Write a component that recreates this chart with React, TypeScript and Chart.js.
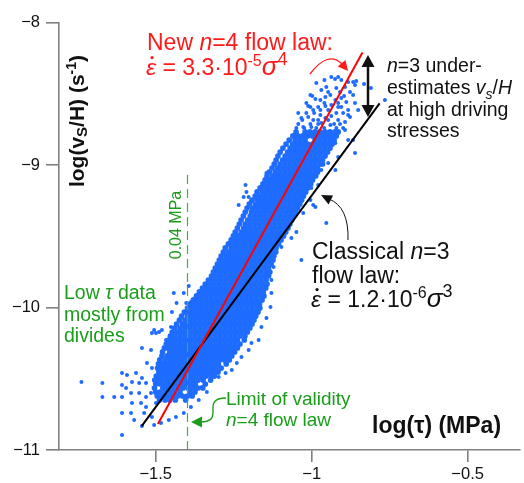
import React, { useEffect, useRef } from "react";
import { Chart, registerables } from "chart.js";
Chart.register(...registerables);

// ---------- data ----------
const X_TICKS = [-1.5, -1, -0.5];
const Y_TICKS = [-11, -10, -9, -8];

// dense core of the cloud: one row of log(tau) values per log(vs/H) level
const CORE_Y = [
  -10.649, -10.621, -10.593, -10.565, -10.537, -10.509, -10.481, -10.453, -10.425, -10.396,
  -10.368, -10.340, -10.312, -10.284, -10.256, -10.228, -10.200, -10.172, -10.144, -10.116,
  -10.088, -10.060, -10.032, -10.004, -9.975, -9.947, -9.919, -9.891, -9.863, -9.835,
  -9.807, -9.779, -9.751, -9.723, -9.695, -9.667, -9.639, -9.611, -9.582, -9.554,
  -9.526, -9.498, -9.470, -9.442, -9.414, -9.386, -9.358, -9.330, -9.302, -9.274,
  -9.246, -9.218, -9.189, -9.161, -9.133, -9.105, -9.077, -9.049, -9.021, -8.993,
  -8.965, -8.937, -8.909, -8.881, -8.853, -8.825, -8.796, -8.768,
];
const CORE_X = [
  "-1.488 -1.470 -1.455 -1.437 -1.404",
  "-1.495 -1.478 -1.463 -1.446 -1.430 -1.414 -1.398 -1.383",
  "-1.500 -1.486 -1.470 -1.454 -1.438 -1.422 -1.390 -1.374",
  "-1.504 -1.477 -1.461 -1.445 -1.429 -1.413 -1.397 -1.381 -1.365 -1.349",
  "-1.500 -1.485 -1.469 -1.453 -1.437 -1.421 -1.405 -1.389 -1.373 -1.341",
  "-1.503 -1.491 -1.476 -1.460 -1.444 -1.428 -1.412 -1.396 -1.380 -1.364 -1.348 -1.324",
  "-1.498 -1.483 -1.467 -1.451 -1.435 -1.419 -1.403 -1.387 -1.371 -1.355 -1.339 -1.323 -1.312",
  "-1.490 -1.475 -1.459 -1.443 -1.427 -1.411 -1.395 -1.379 -1.363 -1.347 -1.331 -1.315 -1.300",
  "-1.494 -1.482 -1.466 -1.450 -1.434 -1.418 -1.402 -1.386 -1.370 -1.354 -1.338 -1.322 -1.306 -1.290",
  "-1.491 -1.475 -1.459 -1.443 -1.427 -1.411 -1.395 -1.379 -1.363 -1.347 -1.331 -1.315 -1.299 -1.274",
  "-1.487 -1.470 -1.455 -1.439 -1.423 -1.407 -1.391 -1.375 -1.359 -1.343 -1.327 -1.311 -1.295 -1.279 -1.264",
  "-1.480 -1.463 -1.447 -1.431 -1.415 -1.399 -1.383 -1.367 -1.351 -1.335 -1.319 -1.303 -1.287 -1.271 -1.256",
  "-1.478 -1.455 -1.439 -1.423 -1.407 -1.391 -1.375 -1.359 -1.343 -1.327 -1.311 -1.295 -1.279 -1.263 -1.247",
  "-1.472 -1.462 -1.446 -1.430 -1.414 -1.398 -1.382 -1.366 -1.350 -1.334 -1.318 -1.302 -1.286 -1.270 -1.254 -1.238",
  "-1.466 -1.454 -1.438 -1.422 -1.406 -1.390 -1.374 -1.358 -1.342 -1.326 -1.310 -1.294 -1.278 -1.262 -1.246 -1.230",
  "-1.459 -1.446 -1.430 -1.414 -1.398 -1.382 -1.366 -1.350 -1.334 -1.318 -1.302 -1.286 -1.270 -1.254 -1.238 -1.216",
  "-1.453 -1.438 -1.422 -1.406 -1.390 -1.374 -1.358 -1.342 -1.326 -1.310 -1.294 -1.278 -1.262 -1.246 -1.230 -1.214",
  "-1.447 -1.430 -1.414 -1.398 -1.382 -1.366 -1.350 -1.334 -1.318 -1.302 -1.286 -1.270 -1.254 -1.238 -1.222 -1.206",
  "-1.440 -1.422 -1.406 -1.390 -1.374 -1.358 -1.342 -1.326 -1.310 -1.294 -1.278 -1.262 -1.246 -1.230 -1.214 -1.198",
  "-1.433 -1.414 -1.398 -1.382 -1.366 -1.350 -1.334 -1.318 -1.302 -1.286 -1.270 -1.254 -1.238 -1.222 -1.206 -1.191",
  "-1.424 -1.406 -1.390 -1.374 -1.358 -1.342 -1.326 -1.310 -1.294 -1.278 -1.262 -1.246 -1.230 -1.214 -1.198 -1.185",
  "-1.417 -1.398 -1.382 -1.366 -1.350 -1.334 -1.318 -1.302 -1.286 -1.270 -1.254 -1.238 -1.222 -1.206 -1.190 -1.179",
  "-1.408 -1.391 -1.375 -1.359 -1.343 -1.327 -1.311 -1.295 -1.279 -1.263 -1.247 -1.231 -1.215 -1.199 -1.183 -1.172",
  "-1.398 -1.383 -1.367 -1.351 -1.335 -1.319 -1.303 -1.287 -1.271 -1.255 -1.239 -1.223 -1.207 -1.191 -1.175 -1.166",
  "-1.389 -1.375 -1.359 -1.343 -1.327 -1.311 -1.295 -1.279 -1.263 -1.247 -1.231 -1.215 -1.199 -1.183 -1.167",
  "-1.379 -1.367 -1.351 -1.335 -1.319 -1.303 -1.287 -1.271 -1.255 -1.239 -1.223 -1.207 -1.191 -1.175 -1.159",
  "-1.369 -1.355 -1.339 -1.323 -1.307 -1.291 -1.275 -1.259 -1.243 -1.227 -1.211 -1.195 -1.179 -1.163 -1.153",
  "-1.360 -1.347 -1.331 -1.315 -1.299 -1.283 -1.267 -1.251 -1.235 -1.219 -1.203 -1.187 -1.171 -1.155",
  "-1.350 -1.338 -1.322 -1.306 -1.290 -1.274 -1.258 -1.242 -1.226 -1.210 -1.194 -1.178 -1.162 -1.147",
  "-1.341 -1.330 -1.314 -1.298 -1.282 -1.266 -1.250 -1.234 -1.218 -1.202 -1.186 -1.170 -1.154 -1.143",
  "-1.331 -1.322 -1.306 -1.290 -1.274 -1.258 -1.242 -1.226 -1.210 -1.194 -1.178 -1.162 -1.146",
  "-1.321 -1.314 -1.298 -1.282 -1.266 -1.250 -1.234 -1.218 -1.202 -1.186 -1.170 -1.154 -1.138",
  "-1.315 -1.302 -1.290 -1.274 -1.258 -1.242 -1.226 -1.210 -1.194 -1.178 -1.162 -1.146 -1.134",
  "-1.309 -1.294 -1.282 -1.266 -1.250 -1.234 -1.218 -1.202 -1.186 -1.170 -1.154 -1.138",
  "-1.302 -1.290 -1.274 -1.258 -1.242 -1.226 -1.210 -1.194 -1.178 -1.162 -1.146 -1.130",
  "-1.296 -1.282 -1.266 -1.250 -1.234 -1.218 -1.202 -1.186 -1.170 -1.154 -1.138 -1.124",
  "-1.290 -1.274 -1.258 -1.242 -1.226 -1.210 -1.194 -1.178 -1.162 -1.146 -1.130 -1.121",
  "-1.283 -1.266 -1.250 -1.234 -1.218 -1.202 -1.186 -1.170 -1.154 -1.138 -1.122 -1.115",
  "-1.277 -1.258 -1.242 -1.226 -1.210 -1.194 -1.178 -1.162 -1.146 -1.130 -1.114",
  "-1.267 -1.250 -1.234 -1.218 -1.202 -1.186 -1.170 -1.154 -1.138 -1.122 -1.106",
  "-1.258 -1.242 -1.226 -1.210 -1.194 -1.178 -1.162 -1.146 -1.130 -1.114 -1.098",
  "-1.251 -1.234 -1.218 -1.202 -1.186 -1.170 -1.154 -1.138 -1.122 -1.106 -1.090",
  "-1.245 -1.226 -1.210 -1.194 -1.178 -1.162 -1.146 -1.130 -1.114 -1.098 -1.083",
  "-1.238 -1.218 -1.202 -1.186 -1.170 -1.154 -1.138 -1.122 -1.106 -1.090 -1.076",
  "-1.232 -1.213 -1.197 -1.181 -1.165 -1.149 -1.133 -1.117 -1.101 -1.085 -1.070",
  "-1.226 -1.205 -1.189 -1.173 -1.157 -1.141 -1.125 -1.109 -1.093 -1.077 -1.064",
  "-1.219 -1.197 -1.181 -1.165 -1.149 -1.133 -1.117 -1.101 -1.085 -1.069 -1.057",
  "-1.213 -1.193 -1.177 -1.161 -1.145 -1.129 -1.113 -1.097 -1.081 -1.065 -1.051",
  "-1.207 -1.189 -1.173 -1.157 -1.141 -1.125 -1.109 -1.093 -1.077 -1.061 -1.045",
  "-1.200 -1.181 -1.165 -1.149 -1.133 -1.117 -1.101 -1.085 -1.069 -1.053 -1.038",
  "-1.191 -1.173 -1.157 -1.141 -1.125 -1.109 -1.093 -1.077 -1.061 -1.045 -1.032",
  "-1.181 -1.165 -1.149 -1.133 -1.117 -1.101 -1.085 -1.069 -1.053 -1.037 -1.026",
  "-1.175 -1.157 -1.141 -1.125 -1.109 -1.093 -1.077 -1.061 -1.045 -1.029 -1.019",
  "-1.165 -1.149 -1.133 -1.117 -1.101 -1.085 -1.069 -1.053 -1.037 -1.021 -1.013",
  "-1.156 -1.141 -1.125 -1.109 -1.093 -1.077 -1.061 -1.045 -1.029 -1.013 -1.003",
  "-1.149 -1.133 -1.117 -1.101 -1.085 -1.069 -1.053 -1.037 -1.021 -1.005 -0.997",
  "-1.143 -1.125 -1.109 -1.093 -1.077 -1.061 -1.045 -1.029 -1.013 -0.997 -0.987",
  "-1.136 -1.117 -1.101 -1.085 -1.069 -1.053 -1.037 -1.021 -1.005 -0.989 -0.981",
  "-1.127 -1.109 -1.093 -1.077 -1.061 -1.045 -1.029 -1.013 -0.997 -0.981",
  "-1.120 -1.101 -1.085 -1.069 -1.053 -1.037 -1.021 -1.005 -0.989 -0.973 -0.965",
  "-1.114 -1.093 -1.077 -1.061 -1.045 -1.029 -1.013 -0.997 -0.981 -0.965",
  "-1.108 -1.085 -1.069 -1.053 -1.037 -1.021 -1.005 -0.989 -0.973 -0.957",
  "-1.101 -1.077 -1.061 -1.045 -1.029 -1.013 -0.997 -0.981 -0.965 -0.949",
  "-1.092 -1.069 -1.053 -1.037 -1.021 -1.005 -0.989 -0.973 -0.957 -0.941",
  "-1.082 -1.061 -1.045 -1.029 -1.013 -0.997 -0.981 -0.965 -0.949 -0.934",
  "-1.072 -1.053 -1.037 -1.021 -0.989 -0.973 -0.957 -0.941 -0.928",
  "-1.060 -1.045 -1.029 -1.013 -0.997 -0.981 -0.965 -0.949 -0.933 -0.921",
  "-1.050 -1.021 -1.005 -0.989 -0.973 -0.957 -0.941 -0.925 -0.915",
];

// scattered points outside the core
const SCATTER_TAU = [
  -0.985, -0.937, -0.925, -0.915, -0.905, -0.883, -0.857, -0.861, -0.921, -0.969,
  -0.988, -0.972, -0.956, -0.940, -0.924, -0.905, -0.889, -0.867, -0.861, -0.883,
  -0.905, -0.937, -0.956, -0.979, -1.011, -1.033, -1.011, -0.995, -0.972, -0.956,
  -0.937, -0.915, -0.893, -0.877, -0.969, -0.940, -1.001, -1.027, -0.765, -0.832,
  -0.810, -0.867, -0.861, -0.867, -1.004, -1.004, -0.972,
  -1.049, -1.024, -0.985, -0.960, -0.921, -0.899, -1.043, -1.004, -0.979, -0.928,
  -0.909, -1.030, -0.979, -0.947, -1.043, -1.017, -0.992, -0.921, -0.899, -0.995,
  -0.947, -0.851, -1.017, -0.959, -0.915, -0.998, -0.896, -0.947, -0.909, -0.877,
  -0.953, -0.893, -0.959,
  -0.915, -0.883, -0.893, -0.883, -0.924, -0.915, -0.947, -0.969, -0.924, -0.988,
  -0.953, -0.995, -1.033, -1.097, -1.065, -1.084, -1.049, -1.027, -1.004, -1.001,
  -0.979, -0.985,
  -1.212, -1.209, -1.202, -1.218, -1.196, -1.234, -1.145, -1.148, -1.256, -1.266,
  -1.394, -1.442, -1.410, -1.352, -1.387, -1.448, -1.419, -1.384, -1.410, -1.451,
  -1.480, -1.505, -1.499, -1.544, -1.515, -1.528, -1.512, -1.608, -1.592, -1.563,
  -1.544, -1.576, -1.553, -1.531, -1.671, -1.738, -1.608, -1.595, -1.633, -1.671,
  -1.608, -1.579, -1.553, -1.531, -1.515, -1.576, -1.547, -1.531, -1.608, -1.579,
  -1.537, -1.512, -1.569, -1.608, -1.505, -1.483, -1.544, -1.499, -1.433, -1.402,
  -1.394, -1.372, -1.489, -1.512, -1.467,
  -1.387, -1.362, -1.352, -1.336, -1.387, -1.410, -1.435, -1.458, -1.314, -1.298,
  -1.276, -1.256, -1.240, -1.225, -1.202, -1.193, -1.170, -1.161, -1.145, -1.132,
  -1.129, -1.129, -1.122,
];
const SCATTER_VEL = [
  -8.424, -8.382, -8.396, -8.382, -8.403, -8.417, -8.410, -8.438, -8.459, -8.473,
  -8.537, -8.544, -8.523, -8.509, -8.544, -8.530, -8.558, -8.509, -8.565, -8.614,
  -8.593, -8.579, -8.586, -8.593, -8.586, -8.670, -8.663, -8.684, -8.649, -8.670,
  -8.656, -8.684, -8.698, -8.663, -8.705, -8.719, -8.733, -8.733, -8.544, -8.431,
  -8.459, -8.417, -8.916, -8.824, -8.509, -8.593, -8.614,
  -8.740, -8.740, -8.740, -8.740, -8.740, -8.740, -8.712, -8.712, -8.712, -8.712,
  -8.712, -8.684, -8.684, -8.684, -8.635, -8.635, -8.635, -8.635, -8.635, -8.614,
  -8.614, -8.614, -8.565, -8.565, -8.565, -8.516, -8.516, -8.488, -8.488, -8.488,
  -8.453, -8.453, -8.403,
  -8.593, -8.649, -8.754, -8.824, -8.846, -8.944, -8.986, -9.035, -9.035, -9.295,
  -9.407, -9.281, -9.667, -9.575, -9.512, -9.470, -9.470, -9.337, -9.246, -9.161,
  -9.140, -9.070,
  -9.140, -9.189, -9.224, -9.224, -9.260, -9.281, -9.056, -9.119, -9.667, -9.702,
  -9.849, -9.898, -9.898, -9.926, -9.961, -10.031, -10.074, -10.053, -10.123, -10.137,
  -10.158, -10.158, -10.179, -10.284, -10.298, -10.389, -10.425, -10.460, -10.474, -10.460,
  -10.495, -10.523, -10.530, -10.530, -10.530, -10.523, -10.544, -10.565, -10.628, -10.628,
  -10.628, -10.600, -10.600, -10.628, -10.600, -10.670, -10.670, -10.698, -10.740, -10.740,
  -10.740, -10.768, -10.789, -10.895, -10.825, -10.811, -10.832, -10.670, -9.968, -9.968,
  -10.067, -9.926, -10.172, -10.179, -10.228,
  -10.614, -10.649, -10.558, -10.593, -10.698, -10.740, -10.768, -10.789, -10.474, -10.488,
  -10.460, -10.439, -10.389, -10.347, -10.298, -10.249, -10.228, -10.137, -10.074, -9.996,
  -9.898, -9.807, -9.716,
];

// flow-law fit lines (end points) and validity limit (log 0.04 MPa)
const N4_TAU = [-1.493, -0.837];
const N4_VEL = [-10.818, -8.21];
const N3_TAU = [-1.545, -0.782];
const N3_VEL = [-10.832, -8.567];
const LIMIT_TAU = [-1.398, -1.398];
const LIMIT_VEL = [-11, -9.049];

// ---------- drawing helpers ----------
const FONT = '"Liberation Sans", Arial, Helvetica, sans-serif';
const font = (size: number, style = "") => `${style} ${size}px ${FONT}`.trim();

type Run = { t: string; s: number; st?: string; dy?: number; dot?: boolean };

function runsWidth(ctx: CanvasRenderingContext2D, runs: Run[]) {
  let w = 0;
  for (const r of runs) {
    ctx.font = font(r.s, r.st);
    w += ctx.measureText(r.t).width;
  }
  return w;
}

function drawRuns(ctx: CanvasRenderingContext2D, x: number, y: number, runs: Run[], color: string) {
  let cx = x;
  ctx.fillStyle = color;
  for (const r of runs) {
    ctx.font = font(r.s, r.st);
    const w = ctx.measureText(r.t).width;
    ctx.fillText(r.t, cx, y + (r.dy || 0));
    if (r.dot) {
      ctx.beginPath();
      ctx.arc(cx + w * 0.6, y - r.s * 0.76, r.s * 0.07, 0, Math.PI * 2);
      ctx.fill();
    }
    cx += w;
  }
}

function arrowHead(ctx: CanvasRenderingContext2D, tx: number, ty: number, fx: number, fy: number, len: number, hw: number, color: string) {
  const a = Math.atan2(ty - fy, tx - fx);
  const bx = tx - len * Math.cos(a);
  const by = ty - len * Math.sin(a);
  ctx.fillStyle = color;
  ctx.beginPath();
  ctx.moveTo(tx, ty);
  ctx.lineTo(bx + hw * Math.sin(a), by - hw * Math.cos(a));
  ctx.lineTo(bx - hw * Math.sin(a), by + hw * Math.cos(a));
  ctx.closePath();
  ctx.fill();
}

const RED = "#ff1a1a";
const GREEN = "#1a9e1a";
const INK = "#111111";

const annotations = {
  id: "annotations",
  afterDatasetsDraw(chart: any) {
    const ctx: CanvasRenderingContext2D = chart.ctx;
    ctx.save();
    ctx.textAlign = "left";
    ctx.textBaseline = "alphabetic";

    // red: new n=4 law
    drawRuns(ctx, 147, 50, [
      { t: "New ", s: 23 }, { t: "n", s: 23, st: "italic" }, { t: "=4 flow law:", s: 23 },
    ], RED);
    drawRuns(ctx, 146, 75, [
      { t: "ε", s: 23, st: "italic", dot: true }, { t: " = 3.3·10", s: 23 },
      { t: "-5", s: 16, dy: -9 }, { t: "σ", s: 26, st: "italic" }, { t: "4", s: 18, dy: -10 },
    ], RED);
    ctx.strokeStyle = RED;
    ctx.lineWidth = 1.3;
    ctx.beginPath();
    ctx.moveTo(310, 74);
    ctx.quadraticCurveTo(328, 50, 342, 64);
    ctx.stroke();
    arrowHead(ctx, 348, 71, 338, 59, 10, 5, RED);

    // black: classical n=3
    drawRuns(ctx, 312, 259, [
      { t: "Classical ", s: 23 }, { t: "n", s: 23, st: "italic" }, { t: "=3", s: 23 },
    ], INK);
    drawRuns(ctx, 312, 283, [{ t: "flow law:", s: 23 }], INK);
    drawRuns(ctx, 311, 307, [
      { t: "ε", s: 23, st: "italic", dot: true }, { t: " = 1.2·10", s: 23 },
      { t: "-6", s: 16, dy: -9 }, { t: "σ", s: 26, st: "italic" }, { t: "3", s: 18, dy: -10 },
    ], INK);
    ctx.strokeStyle = INK;
    ctx.lineWidth = 1;
    ctx.beginPath();
    ctx.moveTo(348, 240);
    ctx.quadraticCurveTo(349, 207, 329, 199);
    ctx.stroke();
    arrowHead(ctx, 321, 195, 333, 201, 11, 5, INK);

    // right-top note
    drawRuns(ctx, 387, 72, [{ t: "n", s: 19.5, st: "italic" }, { t: "=3 under-", s: 19.5 }], INK);
    drawRuns(ctx, 387, 94, [
      { t: "estimates ", s: 19.5 }, { t: "v", s: 19.5, st: "italic" }, { t: "s", s: 14, st: "italic", dy: 5 },
      { t: "/", s: 19.5 }, { t: "H", s: 19.5, st: "italic" },
    ], INK);
    drawRuns(ctx, 387, 116, [{ t: "at high driving", s: 19.5 }], INK);
    drawRuns(ctx, 387, 137, [{ t: "stresses", s: 19.5 }], INK);
    // double arrow
    ctx.strokeStyle = INK;
    ctx.lineWidth = 2.5;
    ctx.beginPath();
    ctx.moveTo(368, 64);
    ctx.lineTo(368, 108);
    ctx.stroke();
    arrowHead(ctx, 368, 55, 368, 70, 12, 6.5, INK);
    arrowHead(ctx, 368, 117, 368, 100, 12, 6.5, INK);

    // green notes
    drawRuns(ctx, 64, 299, [{ t: "Low ", s: 19.5 }, { t: "τ", s: 19.5, st: "italic" }, { t: " data", s: 19.5 }], GREEN);
    drawRuns(ctx, 64, 321, [{ t: "mostly from", s: 19.5 }], GREEN);
    drawRuns(ctx, 64, 342, [{ t: "divides", s: 19.5 }], GREEN);
    drawRuns(ctx, 226, 405, [{ t: "Limit of validity", s: 19 }], GREEN);
    drawRuns(ctx, 226, 426, [{ t: "n", s: 19, st: "italic" }, { t: "=4 flow law", s: 19 }], GREEN);
    ctx.strokeStyle = GREEN;
    ctx.lineWidth = 1.3;
    ctx.beginPath();
    ctx.moveTo(226, 398);
    ctx.quadraticCurveTo(213, 398, 213, 407);
    ctx.lineTo(213, 413);
    ctx.quadraticCurveTo(213, 422, 201, 422);
    ctx.stroke();
    arrowHead(ctx, 191, 422, 203, 422, 11, 5.5, GREEN);

    ctx.save();
    ctx.translate(181, 225);
    ctx.rotate(-Math.PI / 2);
    ctx.textAlign = "center";
    ctx.font = font(16);
    ctx.fillStyle = GREEN;
    ctx.fillText("0.04 MPa", 0, 0);
    ctx.restore();

    // axis titles
    drawRuns(ctx, 372, 433, [{ t: "log(τ) (MPa)", s: 23, st: "bold" }], INK);
    const yRuns: Run[] = [
      { t: "log(v", s: 21, st: "bold" }, { t: "S", s: 15, st: "bold", dy: 3 },
      { t: "/H) (s", s: 21, st: "bold" }, { t: "-1", s: 14, st: "bold", dy: -8 },
      { t: ")", s: 21, st: "bold" },
    ];
    ctx.save();
    ctx.translate(84, 121);
    ctx.rotate(-Math.PI / 2);
    ctx.textAlign = "left";
    const w = runsWidth(ctx, yRuns);
    drawRuns(ctx, -w / 2, 0, yRuns, INK);
    ctx.restore();

    ctx.restore();
  },
};

const fmt = (v: number) => String(v).replace("-", "\u2212");

export default function App() {
  const ref = useRef<HTMLCanvasElement | null>(null);
  useEffect(() => {
    document.body.style.margin = "0";
    const core: { x: number; y: number }[] = [];
    CORE_Y.forEach((y, i) => {
      CORE_X[i].split(" ").forEach((s) => core.push({ x: parseFloat(s), y }));
    });
    const scatter = SCATTER_TAU.map((x, i) => ({ x, y: SCATTER_VEL[i] }));
    const pts = (xs: number[], ys: number[]) => xs.map((x, i) => ({ x, y: ys[i] }));

    const chart = new Chart(ref.current as HTMLCanvasElement, {
      type: "scatter",
      data: {
        datasets: [
          {
            label: "n=4", data: pts(N4_TAU, N4_VEL), showLine: true, borderColor: "#ff0000",
            borderWidth: 2, pointRadius: 0, backgroundColor: "#ff0000",
          },
          {
            label: "n=3", data: pts(N3_TAU, N3_VEL), showLine: true, borderColor: "#000000",
            borderWidth: 2, pointRadius: 0, backgroundColor: "#000000",
          },
          {
            label: "limit", data: pts(LIMIT_TAU, LIMIT_VEL), showLine: true, borderColor: "#3cb43c",
            borderWidth: 1.2, borderDash: [9, 5], pointRadius: 0, backgroundColor: "#3cb43c",
          },
          {
            label: "core", data: core, pointRadius: 2.85, borderWidth: 0,
            backgroundColor: "#1e6cff", pointBorderColor: "#1e6cff",
          },
          {
            label: "scatter", data: scatter, pointRadius: 2, borderWidth: 0,
            backgroundColor: "#1e6cff", pointBorderColor: "#1e6cff",
          },
        ],
      },
      options: {
        responsive: false,
        animation: false,
        events: [],
        layout: { padding: { top: 22.5, right: 1.3, left: 0, bottom: 0 } },
        plugins: { legend: { display: false }, tooltip: { enabled: false }, title: { display: false } },
        scales: {
          x: {
            type: "linear", min: -1.81, max: -0.332,
            afterBuildTicks: (s: any) => { s.ticks = X_TICKS.map((value) => ({ value })); },
            afterFit: (s: any) => { s.height = 33; },
            border: { display: true, color: "#808080", width: 1.6 },
            grid: { drawOnChartArea: false, drawTicks: true, tickLength: 12, color: "#808080", lineWidth: 1.6 },
            ticks: { padding: 3, color: INK, font: { size: 16.5, family: FONT }, callback: (v: any) => fmt(Number(v)), maxRotation: 0 },
          },
          y: {
            type: "linear", min: -11, max: -8,
            afterBuildTicks: (s: any) => { s.ticks = Y_TICKS.map((value) => ({ value })); },
            afterFit: (s: any) => { s.width = 59; },
            border: { display: true, color: "#808080", width: 1.6 },
            grid: { drawOnChartArea: false, drawTicks: true, tickLength: 13, color: "#808080", lineWidth: 1.6 },
            ticks: { padding: 6, color: INK, font: { size: 16.5, family: FONT }, callback: (v: any) => fmt(Number(v)) },
          },
        },
      },
      plugins: [annotations],
    });
    return () => chart.destroy();
  }, []);
  return <canvas ref={ref} width={524} height={483} style={{ display: "block" }} />;
}
